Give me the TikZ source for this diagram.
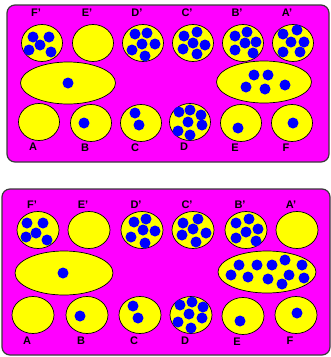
\documentclass[tikz,border=0pt]{standalone}
\usepackage{fontspec}
\setmainfont{Liberation Sans}
\usepackage{xcolor}
\usepackage{tikz}
\usetikzlibrary{shapes.geometric, positioning}
\definecolor{PanelPink}{HTML}{FF00FF}
\definecolor{CellYellow}{HTML}{FFFF00}
\definecolor{SpotBlue}{HTML}{0000FF}
\definecolor{EdgeGrey}{HTML}{3A3A3A}
\newcommand{\spots}[2]{\foreach \dx/\dy in {#2} \fill[spot] (#1) ++(\dx,\dy) circle (5.5pt);}

\begin{document}
\begin{tikzpicture}[x=1pt, y=-1pt,
  panel/.style={draw=EdgeGrey, line width=1.2pt, fill=PanelPink, rounded corners=8pt},
  cell/.style={ellipse, draw=black, line width=0.7pt, fill=CellYellow, inner sep=0pt,
               minimum width=41pt, minimum height=37pt},
  blob/.style={cell, minimum width=95pt, minimum height=42pt},
  lbl/.style={inner sep=0pt, font=\fontsize{11}{11}\selectfont\bfseries, xshift=-6pt},
  spot/.style={fill=SpotBlue}
]
  \useasboundingbox (0,0) rectangle (331,357);

  % upper panel
  \draw[panel] (7,5) rectangle (329,162);
  \node[cell] (tFp) at (42,43) {};
  \node[cell] (tEp) at (93,43) {};
  \node[cell] (tDp) at (143,43) {};
  \node[cell] (tCp) at (193,43) {};
  \node[cell] (tBp) at (243,43) {};
  \node[cell] (tAp) at (293,43) {};
  \node[blob] (tL) at (68,83) {};
  \node[blob] (tR) at (264,82) {};
  \node[cell] (tA) at (39,122) {};
  \node[cell] (tB) at (91,123) {};
  \node[cell] (tC) at (141,123) {};
  \node[cell] (tD) at (190,122) {};
  \node[cell] (tE) at (241,123) {};
  \node[cell] (tF) at (292,123) {};

  \spots{tFp}{-9/-6, 7/-6, -2/2, -13/7, 9/9}
  \spots{tDp}{-8/-9, 4/-10, -1/1, 12/1, -11/7, 2/13}
  \spots{tCp}{-9/-7, 4/-11, 0/0, 12/2, -10/6, 4/11}
  \spots{tBp}{-8/-7, 4/-11, 2/0, 13/-1, -8/7, 10/10}
  \spots{tAp}{-10/-9, 4/-13, -2/-1, 11/-1, -10/9, 7/9}
  \spots{tL}{0/0}
  \spots{tR}{-10/-7, 4/-7, -18/5, 1/7, 21/3}
  \spots{tB}{-7/0}
  \spots{tC}{-6/-10, -2/2}
  \spots{tD}{-11/-10, 0/-12, 11/-7, -2/0, 12/3, -12/9, 0/13}
  \spots{tE}{-3/5}
  \spots{tF}{1/0}

  \node[lbl, above=7pt of tFp] (ltFp) {F'};
  \node[lbl, above=7pt of tEp] (ltEp) {E'};
  \node[lbl, above=7pt of tDp] (ltDp) {D'};
  \node[lbl, above=7pt of tCp] (ltCp) {C'};
  \node[lbl, above=7pt of tBp] (ltBp) {B'};
  \node[lbl, above=7pt of tAp] (ltAp) {A'};
  \node[lbl, below=2pt of tA] (ltA) {A};
  \node[lbl, below=2pt of tB] (ltB) {B};
  \node[lbl, below=2pt of tC] (ltC) {C};
  \node[lbl, below=2pt of tD] (ltD) {D};
  \node[lbl, below=2pt of tE] (ltE) {E};
  \node[lbl, below=2pt of tF] (ltF) {F};

  % lower panel
  \draw[panel] (2,189) rectangle (330,355);
  \node[cell, minimum width=42pt] (bFp) at (38,230) {};
  \node[cell, minimum width=42pt] (bEp) at (89,230) {};
  \node[cell, minimum width=42pt] (bDp) at (142,230) {};
  \node[cell, minimum width=42pt] (bCp) at (193,230) {};
  \node[cell, minimum width=42pt] (bBp) at (246,230) {};
  \node[cell, minimum width=42pt] (bAp) at (297,230) {};
  \node[blob, minimum width=98pt, minimum height=44pt] (bL) at (64,273) {};
  \node[blob, minimum width=98pt] (bR) at (267,272) {};
  \node[cell, minimum width=42pt] (bA) at (33,315) {};
  \node[cell, minimum width=42pt] (bB) at (87,315) {};
  \node[cell, minimum width=42pt] (bC) at (140,315) {};
  \node[cell, minimum width=42pt] (bD) at (191,315) {};
  \node[cell, minimum width=42pt] (bE) at (243,316) {};
  \node[cell, minimum width=42pt] (bF) at (296,315) {};

  \spots{bFp}{-11/-7, 5/-7, -2/3, -12/7, 9/10}
  \spots{bDp}{-8/-8, 4/-11, 1/0, 13/1, -11/7, 3/13}
  \spots{bCp}{-10/-7, 5/-11, 0/-1, 13/3, -11/5, 3/12}
  \spots{bBp}{-10/-7, 3/-11, 0/2, 12/-1, -10/8, 10/11}
  \spots{bL}{-1/0}
  \spots{bR}{-28/-7, -10/-7, 5/-7, 18/-12, 35/-7, -36/3, -19/5, 1/7, 22/3, 37/6, 15/12}
  \spots{bB}{-7/1}
  \spots{bC}{-7/-9, -2/3}
  \spots{bD}{-11/-10, 1/-13, 12/-8, -2/-1, 11/3, -13/7, 0/13}
  \spots{bE}{-3/5}
  \spots{bF}{1/-2}

  \node[lbl, above=2pt of bFp] (lbFp) {F'};
  \node[lbl, above=2pt of bEp] (lbEp) {E'};
  \node[lbl, above=2pt of bDp] (lbDp) {D'};
  \node[lbl, above=2pt of bCp] (lbCp) {C'};
  \node[lbl, above=2pt of bBp] (lbBp) {B'};
  \node[lbl, above=2pt of bAp] (lbAp) {A'};
  \node[lbl, below=3pt of bA] (lbA) {A};
  \node[lbl, below=3pt of bB] (lbB) {B};
  \node[lbl, below=3pt of bC] (lbC) {C};
  \node[lbl, below=3pt of bD] (lbD) {D};
  \node[lbl, below=3pt of bE] (lbE) {E};
  \node[lbl, below=3pt of bF] (lbF) {F};
\end{tikzpicture}
\end{document}
